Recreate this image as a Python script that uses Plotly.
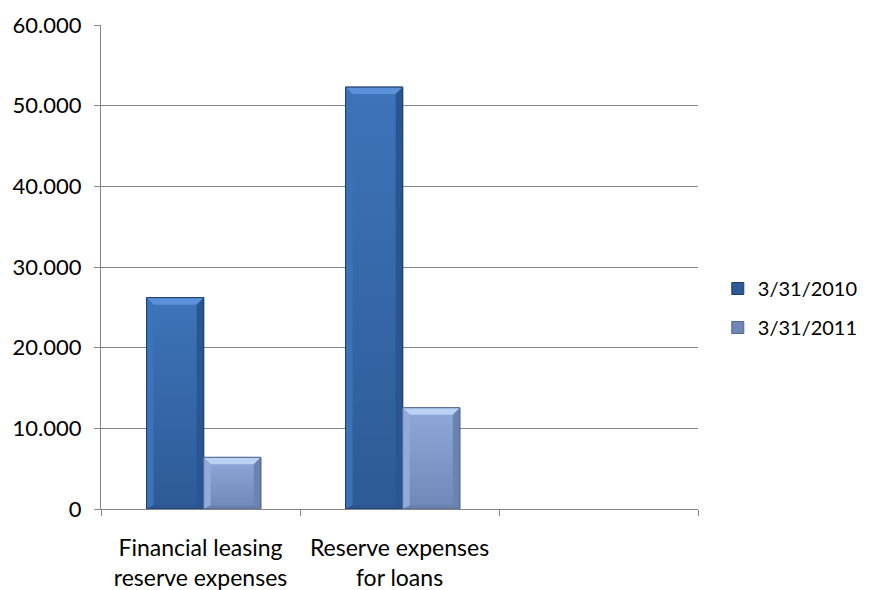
import plotly.graph_objects as go

# Chart data
categories = ["Financial leasing<br>reserve expenses", "Reserve expenses<br>for loans", " "]
series_names = ["3/31/2010", "3/31/2011"]
values_2010 = [26200, 52300, None]
values_2011 = [6400, 12550, None]

# Styling: face gradient (top -> bottom) and bevel tones per series
face_top = [(0x3D, 0x74, 0xBA), (0x8E, 0xA9, 0xDA)]
face_bottom = [(0x2E, 0x5A, 0x96), (0x70, 0x88, 0xB6)]
edge_colors = ["#1F3E69", "#51688F"]
top_bevel = ["#5B91DA", "#BBD2F4"]
left_bevel = ["#3C72B8", "#91ABDA"]
right_bevel = ["#2A5590", "#6B83B0"]
bottom_bevel = ["#2B5590", "#6980AC"]

Y_MAX = 60000
PLOT_W, PLOT_H = 597, 484
BAR_W = 0.287
BEVEL_PX = 7
N_SLICES = 24

fig = go.Figure()
all_values = [values_2010, values_2011]
offsets = [-BAR_W + 0.016, 0.016]
for k, (name, vals) in enumerate(zip(series_names, all_values)):
    fig.add_trace(go.Bar(
        x=categories, y=vals, name=name,
        width=BAR_W, offset=offsets[k],
        marker=dict(color="rgb(%d,%d,%d)" % face_bottom[k],
                    line=dict(color=edge_colors[k], width=1)),
        legendgroup=name,
    ))


def mix(c0, c1, t):
    return "rgb(%d,%d,%d)" % tuple(round(a + (b - a) * t) for a, b in zip(c0, c1))


bx = BEVEL_PX * len(categories) / PLOT_W
by = BEVEL_PX * Y_MAX / PLOT_H
shapes = []
for k, vals in enumerate(all_values):
    for i, v in enumerate(vals):
        if v is None:
            continue
        x0 = i + offsets[k]
        x1 = x0 + BAR_W
        # vertical gradient on the face (slices overlap slightly to avoid seams)
        for s in range(N_SLICES):
            ya = v * s / N_SLICES
            yb = min(v, v * (s + 1.6) / N_SLICES)
            t = 1 - (s + 0.5) / N_SLICES
            shapes.append(dict(type="rect", xref="x", yref="y", x0=x0, x1=x1, y0=ya, y1=yb,
                               fillcolor=mix(face_top[k], face_bottom[k], t),
                               line=dict(width=0), layer="above"))

        def poly(pts, color):
            path = "M" + " L".join(f"{px},{py}" for px, py in pts) + " Z"
            shapes.append(dict(type="path", path=path, xref="x", yref="y",
                               fillcolor=color, line=dict(width=0), layer="above"))
        poly([(x0, v), (x1, v), (x1 - bx, v - by), (x0 + bx, v - by)], top_bevel[k])
        poly([(x0, v), (x0 + bx, v - by), (x0 + bx, by * 0.5), (x0, 0)], left_bevel[k])
        poly([(x1, v), (x1 - bx, v - by), (x1 - bx, by * 0.5), (x1, 0)], right_bevel[k])
        poly([(x0, 0), (x0 + bx, by * 0.5), (x1 - bx, by * 0.5), (x1, 0)], bottom_bevel[k])
        shapes.append(dict(type="rect", xref="x", yref="y", x0=x0, x1=x1, y0=0, y1=v,
                           line=dict(color=edge_colors[k], width=1), layer="above"))

fig.update_layout(
    width=869, height=590,
    margin=dict(l=101, r=171, t=25, b=81, autoexpand=False),
    paper_bgcolor="white", plot_bgcolor="white",
    font=dict(family="Lato, Carlito, sans-serif", size=23, color="#000000"),
    separators=",.",
    barmode="group",
    shapes=shapes,
    showlegend=True,
    legend=dict(xref="container", yref="container", x=0.826, y=0.478,
                xanchor="left", yanchor="middle",
                tracegroupgap=10, font=dict(size=20)),
    xaxis=dict(
        type="category", categoryorder="array", categoryarray=categories,
        range=[-0.5, 2.5], automargin=False,
        showline=True, linecolor="#868686", linewidth=1,
        ticks="outside", tickson="boundaries", ticklen=6, tickcolor="#868686",
        showgrid=False, tickfont=dict(size=23), ticklabelstandoff=18,
    ),
    yaxis=dict(
        range=[0, Y_MAX], dtick=10000, tickformat=",d", automargin=False,
        showline=True, linecolor="#868686", linewidth=1,
        ticks="outside", ticklen=6, tickcolor="#868686",
        showgrid=True, gridcolor="#868686", gridwidth=1,
        zeroline=False, tickfont=dict(size=22), ticklabelstandoff=8,
    ),
)

fig.write_html("out.html")
